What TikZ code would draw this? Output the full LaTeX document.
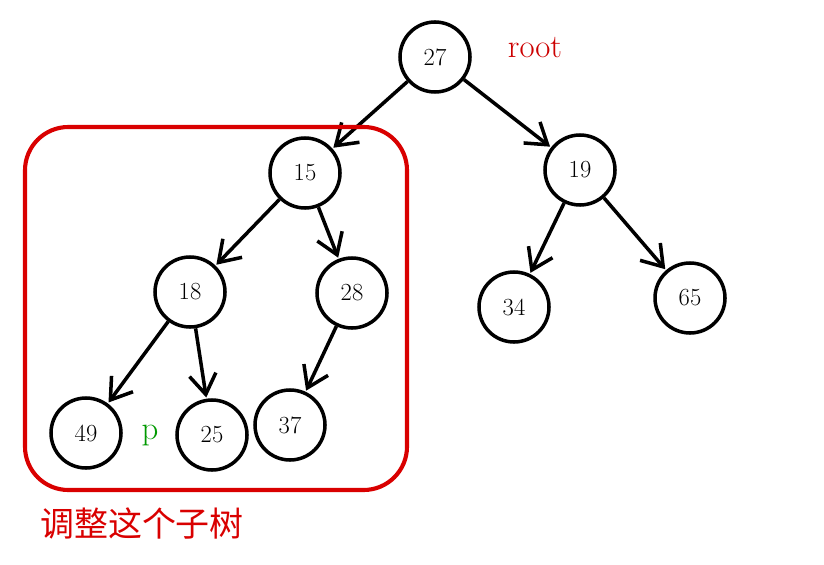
\documentclass[tikz,border=0pt]{standalone}
\usepackage{fontspec}
\newfontfamily\cjk{Noto Sans CJK SC}
\usetikzlibrary{arrows.meta}
\begin{document}
\begin{tikzpicture}[x=0.03cm,y=-0.03cm,
    treenode/.style={circle, draw=black, line width=3pt, minimum size=2.1cm, font=\fontsize{21}{24}\selectfont},
    edge/.style={-{Straight Barb[length=6mm,width=8mm]}, line width=3pt, shorten >=1pt}]
  \useasboundingbox (0,0) rectangle (824,564);

  \node[treenode] (n27) at (435,57)  {27};
  \node[treenode] (n15) at (305,173) {15};
  \node[treenode] (n19) at (580,170) {19};
  \node[treenode] (n18) at (190,292) {18};
  \node[treenode] (n28) at (352,293) {28};
  \node[treenode] (n34) at (514,307) {34};
  \node[treenode] (n65) at (690,298) {65};
  \node[treenode] (n49) at (86,433)  {49};
  \node[treenode] (n25) at (212,435) {25};
  \node[treenode] (n37) at (290,425) {37};

  \draw[edge] (n27) -- (n15);
  \draw[edge] (n27) -- (n19);
  \draw[edge] (n15) -- (n18);
  \draw[edge] (n15) -- (n28);
  \draw[edge] (n19) -- (n34);
  \draw[edge] (n19) -- (n65);
  \draw[edge] (n18) -- (n49);
  \draw[edge] (n18) -- (n25);
  \draw[edge] (n28) -- (n37);

  \node[text=red!80!black, font=\fontsize{28}{30}\selectfont] (rootlbl) at (535,48) {root};
  \node[text=green!60!black, font=\fontsize{28}{30}\selectfont] (plbl) at (150,436) {p};
  \draw[red!85!black, line width=3.5pt, rounded corners=1.3cm] (25,127) rectangle (407,490);
  \node[text=red!85!black, font=\cjk\fontsize{29}{32}\selectfont] (sublbl) at (142,523) {调整这个子树};
\end{tikzpicture}
\end{document}
